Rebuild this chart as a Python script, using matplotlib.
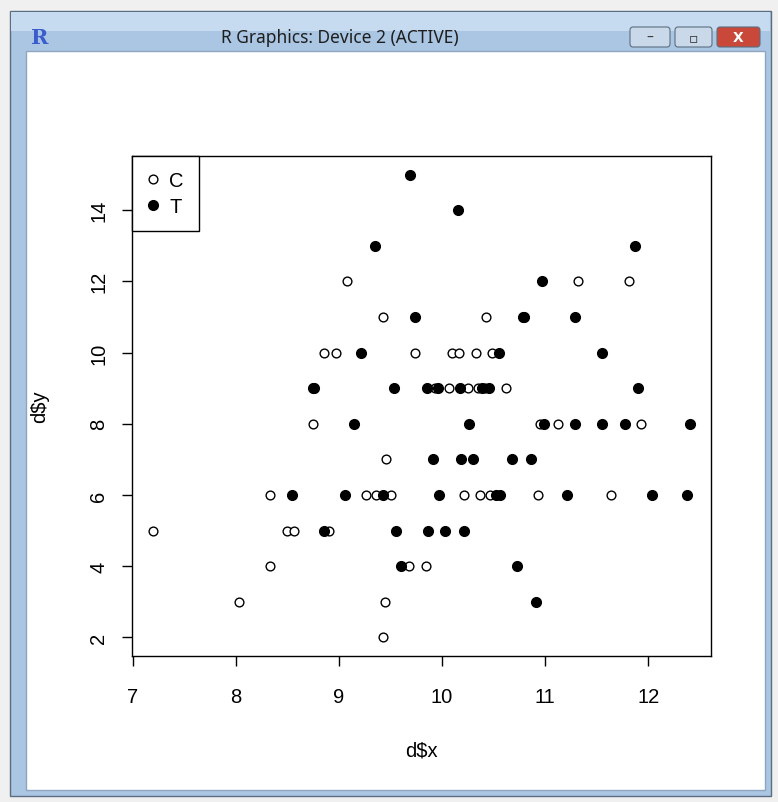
import matplotlib.pyplot as plt
from matplotlib.patches import Rectangle, FancyBboxPatch

# Group C (open circles)
x_c = [7.20, 8.03, 8.33, 8.33, 8.50, 8.56, 8.75, 8.85, 8.90, 8.97, 9.08, 9.26,
       9.36, 9.43, 9.43, 9.45, 9.46, 9.50, 9.68, 9.74, 9.84, 9.93, 10.07, 10.10,
       10.16, 10.21, 10.25, 10.33, 10.35, 10.37, 10.42, 10.43, 10.46, 10.48,
       10.62, 10.93, 10.95, 11.12, 11.32, 11.64, 11.81, 11.93]
y_c = [5, 3, 6, 4, 5, 5, 8, 10, 5, 10, 12, 6,
       6, 11, 2, 3, 7, 6, 4, 10, 4, 9, 9, 10,
       10, 6, 9, 10, 9, 6, 9, 11, 6, 10,
       9, 6, 8, 8, 12, 6, 12, 8]

# Group T (filled circles)
x_t = [8.54, 8.75, 8.76, 8.85, 9.06, 9.15, 9.21, 9.35, 9.43, 9.53, 9.55, 9.60,
       9.69, 9.74, 9.85, 9.86, 9.91, 9.96, 9.97, 10.03, 10.15, 10.17, 10.18,
       10.21, 10.26, 10.30, 10.39, 10.45, 10.52, 10.55, 10.56, 10.68, 10.73,
       10.78, 10.79, 10.86, 10.91, 10.97, 10.99, 11.21, 11.29, 11.29, 11.55,
       11.55, 11.77, 11.87, 11.90, 12.04, 12.38, 12.40]
y_t = [6, 9, 9, 5, 6, 8, 10, 13, 6, 9, 5, 4,
       15, 11, 9, 5, 7, 9, 6, 5, 14, 9, 7,
       5, 8, 7, 9, 9, 6, 10, 6, 7, 4,
       11, 11, 7, 3, 12, 8, 6, 11, 8, 10,
       8, 8, 13, 9, 6, 6, 8]

W, H = 778, 803
fig = plt.figure(figsize=(W / 100, H / 100), dpi=100)
fig.patch.set_facecolor("#f0f0f0")


def box(x0, y0, x1, y1, **kw):
    # pixel box measured from the top-left corner
    r = Rectangle((x0 / W, 1 - y1 / H), (x1 - x0) / W, (y1 - y0) / H,
                  transform=fig.transFigure, zorder=-10, **kw)
    fig.add_artist(r)


# window frame
box(10, 12, 771, 797, facecolor="#aac6e3", edgecolor="#5b6e80", linewidth=1)
box(11, 13, 770, 32, facecolor="#c6dbf0", edgecolor="none")
box(26, 52, 765, 791, facecolor="white", edgecolor="#8ea6bf", linewidth=1)
fig.text(340 / W, 1 - 38 / H, "R Graphics: Device 2 (ACTIVE)", ha="center",
         va="center", fontsize=12.5, family="Noto Sans", color="#1e1e1e")
fig.text(40 / W, 1 - 38 / H, "R", ha="center", va="center", fontsize=15,
         fontweight="bold", color="#3a5ccc", family="DejaVu Serif")
for x0, x1, fc in [(630, 670, "#c9d9ea"), (675, 712, "#c9d9ea"), (717, 760, "#c9483a")]:
    b = FancyBboxPatch((x0 / W, 1 - 48 / H), (x1 - x0) / W, 20 / H,
                       boxstyle="round,pad=0,rounding_size=0.004",
                       transform=fig.transFigure, facecolor=fc,
                       edgecolor="#5b6e80", linewidth=0.8, zorder=-5)
    fig.add_artist(b)
fig.text(650 / W, 1 - 38 / H, "–", ha="center", va="center", fontsize=10, color="#333")
fig.text(693 / W, 1 - 38 / H, "▫", ha="center", va="center", fontsize=10, color="#333")
fig.text(738 / W, 1 - 38 / H, "X", ha="center", va="center", fontsize=10,
         fontweight="bold", color="white")

# plot region
ax = fig.add_axes([132 / W, 1 - 657 / H, 579 / W, 500 / H])
ax.plot(x_c, y_c, "o", markerfacecolor="white", markeredgecolor="black",
        markersize=6.3, markeredgewidth=1.0, linestyle="none", label="C")
ax.plot(x_t, y_t, "o", color="black", markersize=7, markeredgewidth=1.0,
        linestyle="none", label="T")

ax.set_xlim(6.992, 12.608)
ax.set_ylim(1.48, 15.52)
ax.set_xticks([7, 8, 9, 10, 11, 12])
ax.set_yticks([2, 4, 6, 8, 10, 12, 14])
ax.tick_params(direction="out", length=7, width=1, labelsize=14.5)
ax.tick_params(axis="x", pad=15)
ax.tick_params(axis="y", pad=10)
for lab in ax.get_yticklabels():
    lab.set_rotation(90)
    lab.set_va("center")
for s in ax.spines.values():
    s.set_linewidth(1)

for lab in ax.get_xticklabels() + ax.get_yticklabels():
    lab.set_family("Liberation Sans")

ax.set_xlabel("d$x", fontsize=14.5, family="Liberation Sans", labelpad=25)
ax.set_ylabel("d$y", fontsize=14.5, family="Liberation Sans", labelpad=29)

leg = ax.legend(loc="upper left", bbox_to_anchor=(0, 1), borderaxespad=0,
                fancybox=False, edgecolor="black", framealpha=1,
                prop={"family": "Liberation Sans", "size": 14.5},
                handlelength=0.6, handletextpad=0.5, borderpad=0.75,
                labelspacing=0.35)
leg.get_frame().set_linewidth(1)

fig.savefig("out.png", dpi=100)
